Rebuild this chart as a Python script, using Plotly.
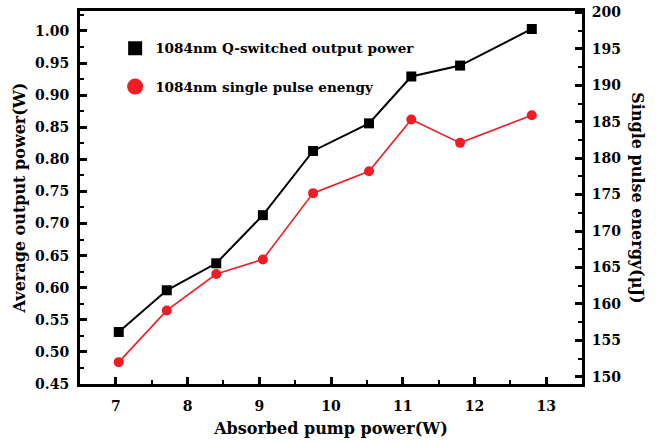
import plotly.graph_objects as go

# Absorbed pump power (W)
pump_power = [7.04, 7.71, 8.40, 9.05, 9.75, 10.53, 11.12, 11.80, 12.80]
# 1084 nm Q-switched average output power (W)
output_power = [0.531, 0.596, 0.638, 0.713, 0.813, 0.856, 0.929, 0.946, 1.003]
# 1084 nm single pulse energy (uJ)
pulse_energy = [152.0, 159.1, 164.1, 166.1, 175.2, 178.2, 185.3, 182.1, 185.9]

name_power = "1084nm Q-switched output power"
name_energy = "1084nm single pulse enengy"

BLACK = "#000000"
RED = "#ee1c25"
FONT = "DejaVu Serif"

fig = go.Figure()

fig.add_trace(go.Scatter(
    x=pump_power, y=output_power, mode="lines+markers",
    line=dict(color=BLACK, width=2),
    marker=dict(symbol="square", size=10, color=BLACK),
    showlegend=False, yaxis="y",
))
fig.add_trace(go.Scatter(
    x=pump_power, y=pulse_energy, mode="lines+markers",
    line=dict(color=RED, width=1.6),
    marker=dict(symbol="circle", size=10, color=RED),
    showlegend=False, yaxis="y2",
))

# marker-only legend entries
fig.add_trace(go.Scatter(
    x=[None], y=[None], mode="markers", name=name_power,
    marker=dict(symbol="square", size=14, color=BLACK), legend="legend",
))
fig.add_trace(go.Scatter(
    x=[None], y=[None], mode="markers", name=name_energy,
    marker=dict(symbol="circle", size=16, color=RED), legend="legend2",
    yaxis="y2",
))

tick_font = dict(family=FONT, size=14, color=BLACK, weight="bold")
title_font = dict(family=FONT, size=16, color=BLACK, weight="bold")
legend_common = dict(
    x=0.07, xanchor="left", yanchor="middle",
    bgcolor="rgba(0,0,0,0)", borderwidth=0,
    itemsizing="trace", font=dict(family=FONT, size=13.6, color=BLACK, weight="bold"),
)

fig.update_layout(
    width=656, height=443,
    margin=dict(l=80, r=74, t=11, b=59, autoexpand=False),
    paper_bgcolor="white", plot_bgcolor="white",
    font=dict(family=FONT, color=BLACK),
    xaxis=dict(
        range=[6.5, 13.5], dtick=1, tick0=7, automargin=False,
        showline=True, linecolor=BLACK, linewidth=3, mirror=True,
        ticks="inside", ticklen=7, tickwidth=2.5, tickcolor=BLACK,
        minor=dict(ticks="inside", ticklen=4, tickwidth=2, dtick=0.5, tickcolor=BLACK),
        showgrid=False, zeroline=False,
        tickfont=tick_font, ticklabelstandoff=7,
        title=dict(text="Absorbed pump power(W)", font=title_font, standoff=11),
    ),
    yaxis=dict(
        range=[0.45, 1.031], dtick=0.05, tick0=0.45, tickformat=".2f", automargin=False,
        showline=True, linecolor=BLACK, linewidth=3,
        ticks="inside", ticklen=7, tickwidth=2.5, tickcolor=BLACK,
        minor=dict(ticks="inside", ticklen=4, tickwidth=2, dtick=0.025, tickcolor=BLACK),
        showgrid=False, zeroline=False,
        tickfont=tick_font, ticklabelstandoff=5,
        title=dict(text="Average output power(W)", font=title_font, standoff=6),
    ),
    yaxis2=dict(
        overlaying="y", side="right", automargin=False,
        range=[149.0, 200.2], dtick=5, tick0=150,
        showline=True, linecolor=BLACK, linewidth=3,
        ticks="inside", ticklen=7, tickwidth=2.5, tickcolor=BLACK,
        minor=dict(ticks="inside", ticklen=4, tickwidth=2, dtick=2.5, tickcolor=BLACK),
        showgrid=False, zeroline=False,
        tickfont=tick_font, ticklabelstandoff=4,
    ),
    legend=dict(y=0.900, **legend_common),
    legend2=dict(y=0.797, **legend_common),
    annotations=[dict(
        text="Single pulse energy(μJ)", textangle=90,
        xref="paper", yref="paper", x=1.11, y=0.5,
        xanchor="center", yanchor="middle", showarrow=False,
        font=title_font,
    )],
)

fig.write_html("out.html")
